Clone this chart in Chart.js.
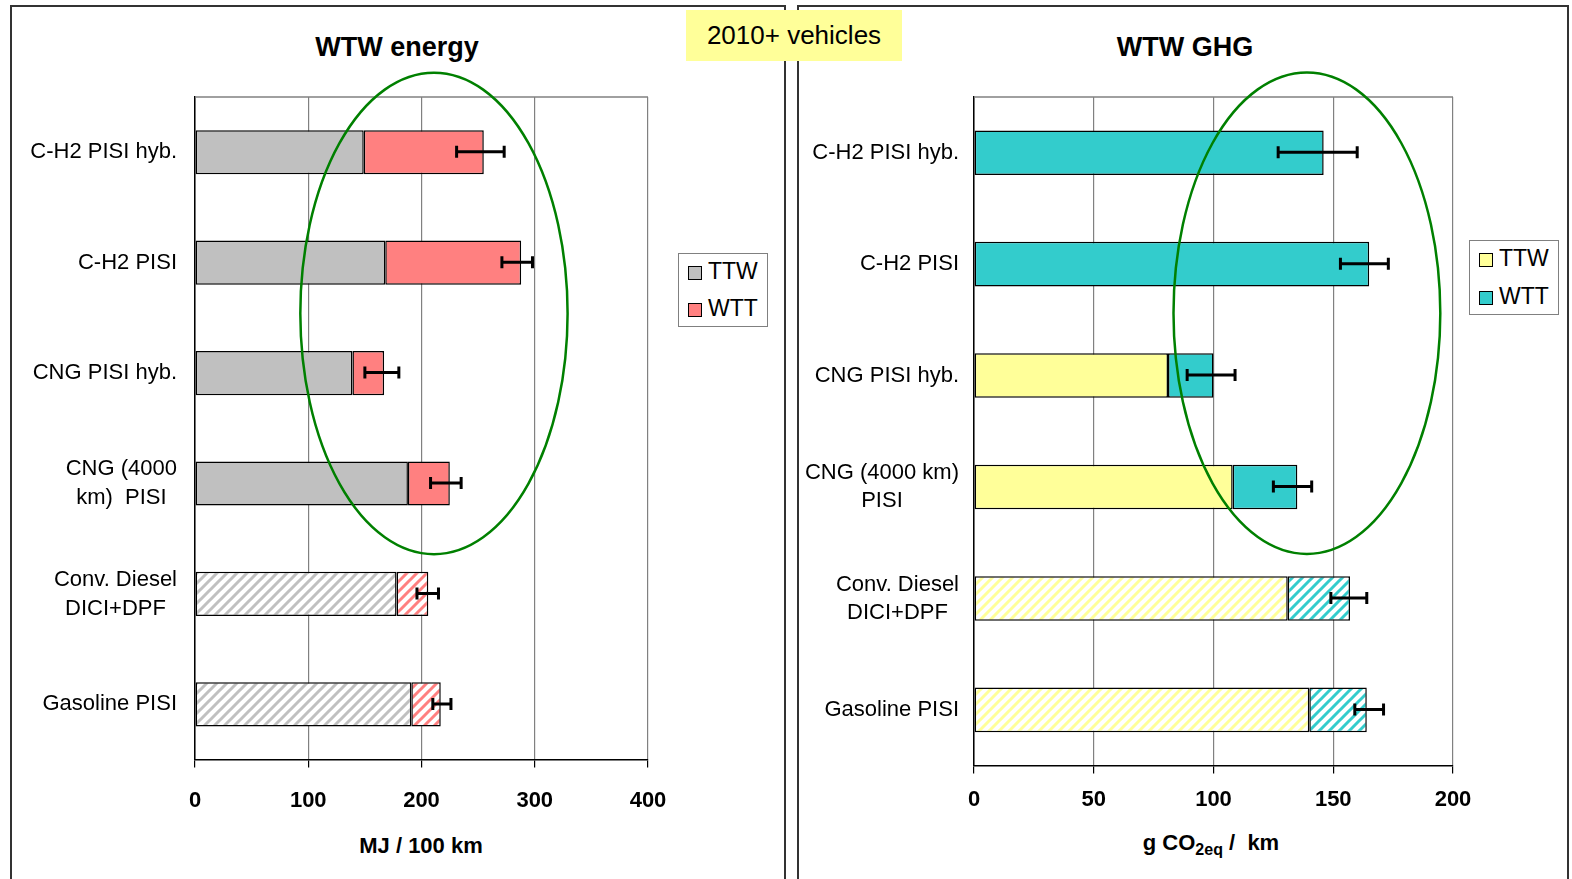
<!DOCTYPE html>
<html>
<head>
<meta charset="utf-8">
<script src="https://cdn.jsdelivr.net/npm/chart.js@4.4.1/dist/chart.umd.min.js"></script>
<style>
    body { margin: 0; width: 1572px; height: 879px; background: #fff; position: relative; overflow: hidden; font-family: 'Liberation Sans', Arial, sans-serif; }
    .panel { position: absolute; border: 2px solid #333; border-bottom: none; }
    .txt { position: absolute; white-space: nowrap; color: #000; }
    .legend { position: absolute; border: 1.5px solid #808080; background: #fff; font-size: 23px; }
    .legend div { position: absolute; left: 9px; }
    .legend span { display: inline-block; width: 12px; height: 12px; border: 1px solid #000; margin-right: 6px; vertical-align: -1px; }
    canvas { position: absolute; left: 0; top: 0; }
</style>
</head>
<body>
<div class="panel" style="left:10px; top:5px; width:772px; height:880px;"></div>
<div class="panel" style="left:797px; top:5px; width:768px; height:880px;"></div>

<div class="txt" style="left:686px; top:10px; width:216px; height:51px; background:#FFFF99; font-size:26px; line-height:51px; text-align:center; z-index:2;">2010+ vehicles</div>

<div class="txt" style="left:297px; top:32px; width:200px; text-align:center; font-size:27px; font-weight:bold;">WTW energy</div>
<div class="txt" style="left:1085px; top:32px; width:200px; text-align:center; font-size:27px; font-weight:bold;">WTW GHG</div>

<div class="txt" style="left:321px; top:833px; width:200px; text-align:center; font-size:22px; font-weight:bold;">MJ / 100 km</div>
<div class="txt" style="left:1111px; top:830px; width:200px; text-align:center; font-size:22px; font-weight:bold;">g CO<sub style="font-size:16px;">2eq</sub> /&nbsp; km</div>

<div class="legend" style="left:678px; top:253px; width:88px; height:72px;">
    <div style="top:4px;"><span style="background:#C0C0C0"></span>TTW</div>
    <div style="top:41px;"><span style="background:#FF8080"></span>WTT</div>
</div>
<div class="legend" style="left:1469px; top:240px; width:88px; height:73px;">
    <div style="top:4px;"><span style="background:#FFFF99"></span>TTW</div>
    <div style="top:42px;"><span style="background:#33CCCC"></span>WTT</div>
</div>

<canvas id="energyChart" width="1572" height="879"></canvas>
<canvas id="ghgChart" width="1572" height="879"></canvas>

<script>
// Kategorien (mehrzeilig wie im Original)
const energyLabels = [['C-H2 PISI hyb.'], ['C-H2 PISI'], ['CNG PISI hyb.'], ['CNG (4000', 'km)  PISI'], ['Conv. Diesel', 'DICI+DPF'], ['Gasoline PISI']];
const ghgLabels = [['C-H2 PISI hyb.'], ['C-H2 PISI'], ['CNG PISI hyb.'], ['CNG (4000 km)', 'PISI'], ['Conv. Diesel', 'DICI+DPF'], ['Gasoline PISI']];

// WTW energy, MJ / 100 km
const energyTTW = [149, 168, 139, 188, 178, 191];
const energyWTT = [106, 120, 28, 37, 28, 26];
const energyErrLow = [231, 271, 150, 208, 196, 210];
const energyErrHigh = [273, 298, 180, 235, 215, 226];

// WTW GHG, g CO2eq / km
const ghgTTW = [0, 0, 81, 108, 131, 140];
const ghgWTT = [146, 165, 19, 27, 26, 24];
const ghgErrLow = [127, 153, 89, 125, 149, 159];
const ghgErrHigh = [160, 173, 109, 141, 164, 171];

// Achsen
const energyTicks = { min: 0, max: 400, step: 100 };
const ghgTicks = { min: 0, max: 200, step: 50 };

Chart.defaults.font.family = "'Liberation Sans', Arial, sans-serif";

// Schraffur für konventionelle Fahrzeuge
const makeHatch = (color) => {
    const c = document.createElement('canvas');
    c.width = 10;
    c.height = 10;
    const g = c.getContext('2d');
    g.fillStyle = '#fff';
    g.fillRect(0, 0, 10, 10);
    g.strokeStyle = color;
    g.lineWidth = 3;
    g.beginPath();
    g.moveTo(0, 10); g.lineTo(10, 0);
    g.moveTo(-5, 5); g.lineTo(5, -5);
    g.moveTo(5, 15); g.lineTo(15, 5);
    g.stroke();
    return g.createPattern(c, 'repeat');
};

const fills = (solid, n) => {
    const hatch = makeHatch(solid);
    return [solid, solid, solid, solid, hatch, hatch].slice(0, n);
};

// Fehlerbalken
const errorBars = {
    id: 'errorBars',
    afterDatasetsDraw(chart, args, opts) {
        const { ctx, scales: { x, y } } = chart;
        ctx.save();
        ctx.strokeStyle = '#000';
        ctx.lineWidth = 3;
        opts.low.forEach((lo, i) => {
            const py = y.getPixelForValue(i) - 0.5;
            const x1 = x.getPixelForValue(lo);
            const x2 = x.getPixelForValue(opts.high[i]);
            ctx.beginPath();
            ctx.moveTo(x1, py); ctx.lineTo(x2, py);
            ctx.moveTo(x1, py - 6); ctx.lineTo(x1, py + 6);
            ctx.moveTo(x2, py - 6); ctx.lineTo(x2, py + 6);
            ctx.stroke();
        });
        ctx.restore();
    }
};

// Rahmen oben, Kategorien-Beschriftung und grüne Ellipse
const decorations = {
    id: 'decorations',
    afterDraw(chart, args, opts) {
        const { ctx, chartArea: area, scales: { x, y } } = chart;
        ctx.save();
        ctx.strokeStyle = '#808080';
        ctx.lineWidth = 1.5;
        ctx.beginPath();
        ctx.moveTo(area.left, area.top);
        ctx.lineTo(area.right, area.top);
        ctx.stroke();

        ctx.fillStyle = '#000';
        ctx.font = "22px 'Liberation Sans', Arial, sans-serif";
        ctx.textAlign = 'center';
        ctx.textBaseline = 'middle';
        opts.labels.forEach((lines, i) => {
            const py = y.getPixelForValue(i);
            const w = Math.max(...lines.map(l => ctx.measureText(l).width));
            const cx = area.left - opts.gap - w / 2;
            const top = py - (lines.length - 1) * opts.lineHeight / 2;
            lines.forEach((l, k) => ctx.fillText(l, cx, top + k * opts.lineHeight));
        });

        const e = opts.ellipse;
        const cx = x.getPixelForValue(e.cx);
        const cy = y.getPixelForValue(e.cy);
        const rx = x.getPixelForValue(e.cx + e.rx) - cx;
        const ry = y.getPixelForValue(e.cy + e.ry) - cy;
        ctx.strokeStyle = '#008000';
        ctx.lineWidth = 2.5;
        ctx.beginPath();
        ctx.ellipse(cx, cy, rx, ry, 0, 0, Math.PI * 2);
        ctx.stroke();
        ctx.restore();
    }
};

const buildChart = (id, labels, ttw, wtt, low, high, colors, ticks, padding, tickPad, ellipse, lineHeight, gap) => {
    return new Chart(document.getElementById(id).getContext('2d'), {
        type: 'bar',
        data: {
            labels: labels.map(l => l.join(' ')),
            datasets: [
                { label: 'TTW', data: ttw, backgroundColor: fills(colors[0], ttw.length) },
                { label: 'WTT', data: wtt, backgroundColor: fills(colors[1], wtt.length) }
            ]
        },
        options: {
            indexAxis: 'y',
            responsive: false,
            devicePixelRatio: 1,
            animation: false,
            layout: { padding: padding },
            datasets: {
                bar: {
                    borderColor: '#000',
                    borderWidth: 1.5,
                    borderSkipped: false,
                    barPercentage: 0.4,
                    categoryPercentage: 1
                }
            },
            scales: {
                x: {
                    stacked: true,
                    min: ticks.min,
                    max: ticks.max,
                    ticks: {
                        stepSize: ticks.step,
                        color: '#000',
                        padding: tickPad,
                        font: { size: 22, weight: 'bold' }
                    },
                    grid: { color: '#808080', tickColor: '#000', tickLength: 8, lineWidth: 1.2 },
                    border: { display: true, color: '#000', width: 1.5 }
                },
                y: {
                    stacked: true,
                    ticks: { display: false },
                    grid: { display: false },
                    border: { display: true, color: '#000', width: 1.5 }
                }
            },
            plugins: {
                legend: { display: false },
                tooltip: { enabled: false },
                errorBars: { low: low, high: high },
                decorations: { labels: labels, ellipse: ellipse, lineHeight: lineHeight, gap: gap }
            }
        },
        plugins: [errorBars, decorations]
    });
};

buildChart('energyChart', energyLabels, energyTTW, energyWTT, energyErrLow, energyErrHigh,
    ['#C0C0C0', '#FF8080'], energyTicks,
    { left: 187, right: 924, top: 97, bottom: 45 }, 20,
    { cx: 211, rx: 118, cy: 1.46, ry: 2.18 }, 29, 18);

buildChart('ghgChart', ghgLabels, ghgTTW, ghgWTT, ghgErrLow, ghgErrHigh,
    ['#FFFF99', '#33CCCC'], ghgTicks,
    { left: 966, right: 119, top: 97, bottom: 53 }, 13,
    { cx: 139, rx: 55.7, cy: 1.44, ry: 2.16 }, 28, 15);
</script>
</body>
</html>
